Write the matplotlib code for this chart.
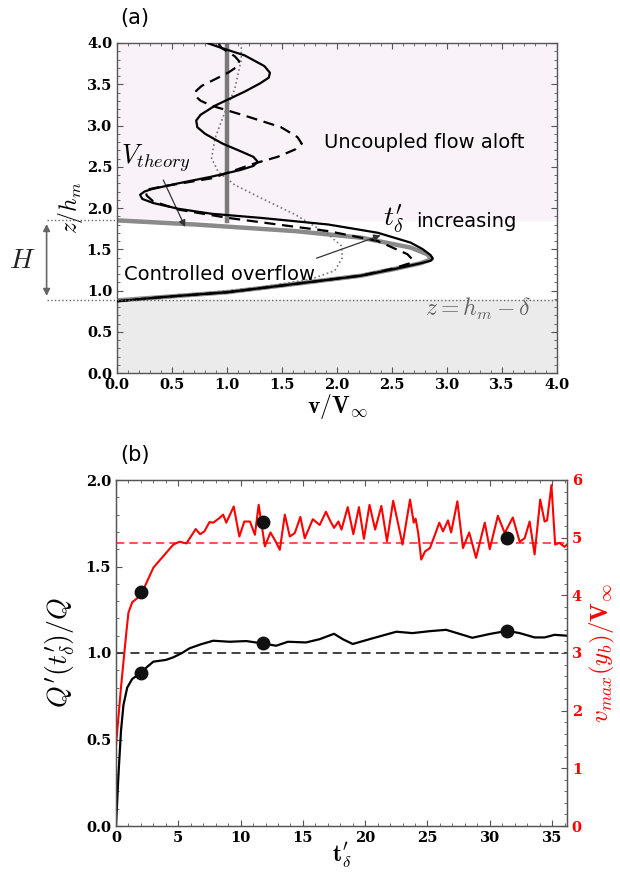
import matplotlib
matplotlib.use("Agg")
import matplotlib.pyplot as plt
from matplotlib.ticker import FuncFormatter, MultipleLocator, AutoMinorLocator

plt.rcParams['mathtext.fontset'] = 'cm'
plt.rcParams['font.family'] = ['DejaVu Sans']

# ---------------- Panel (a) data ----------------
solid_v = [0.0, 0.41, 1.01, 1.62, 2.22, 2.52, 2.76, 2.85, 2.87, 2.85, 2.78, 2.67, 2.37, 1.92, 1.31, 0.86,
           0.56, 0.33, 0.23, 0.21, 0.25, 0.32, 0.56, 0.86, 1.12, 1.24, 1.28, 1.24, 1.12, 0.96, 0.80, 0.73,
           0.72, 0.76, 0.89, 1.16, 1.30, 1.38, 1.39, 1.34, 1.16, 0.95, 0.82]
solid_z = [0.87, 0.92, 0.98, 1.08, 1.18, 1.26, 1.33, 1.36, 1.39, 1.43, 1.50, 1.58, 1.70, 1.80, 1.88, 1.93,
           1.99, 2.06, 2.11, 2.16, 2.20, 2.23, 2.30, 2.38, 2.46, 2.51, 2.56, 2.62, 2.69, 2.78, 2.90, 2.98,
           3.06, 3.13, 3.24, 3.41, 3.51, 3.58, 3.64, 3.72, 3.85, 3.94, 4.00]
dashed_v = [0.0, 0.41, 1.01, 1.62, 2.22, 2.52, 2.66, 2.69, 2.64, 2.37, 1.92, 1.46, 1.01, 0.56, 0.33, 0.27,
            0.26, 0.41, 0.86, 1.25, 1.46, 1.62, 1.68, 1.64, 1.49, 1.16, 0.86, 0.76, 0.71, 0.72, 0.77, 1.01,
            1.10, 1.11, 1.07, 0.95, 0.92]
dashed_z = [0.87, 0.92, 0.98, 1.08, 1.18, 1.27, 1.33, 1.37, 1.44, 1.60, 1.72, 1.80, 1.88, 1.98, 2.08, 2.15,
            2.22, 2.26, 2.36, 2.54, 2.62, 2.71, 2.78, 2.86, 2.98, 3.12, 3.24, 3.30, 3.36, 3.42, 3.48, 3.64,
            3.72, 3.78, 3.84, 3.94, 4.00]
dotted_v = [0.0, 0.71, 1.31, 1.77, 1.98, 2.05, 2.04, 1.92, 1.62, 1.31, 1.07, 0.92, 0.86, 0.89, 0.98, 1.07,
            1.13, 1.13]
dotted_z = [0.87, 0.96, 1.04, 1.14, 1.24, 1.40, 1.54, 1.68, 1.92, 2.12, 2.28, 2.44, 2.60, 2.84, 3.16, 3.44,
            3.80, 4.00]
theory_v = [0.0, 0.71, 1.62, 2.22, 2.67, 2.82, 2.86, 2.76, 2.52, 2.22, 1.62, 1.01, 0.41, 0.0]
theory_z = [1.85, 1.80, 1.72, 1.64, 1.52, 1.44, 1.38, 1.33, 1.26, 1.18, 1.08, 0.98, 0.92, 0.88]
z_low = 0.88      # z = h_m - delta
z_high = 1.86     # top of controlled layer
v_uniform = 1.0

# ---------------- Panel (b) data ----------------
t_q = [0, 0.2, 0.4, 0.6, 0.9, 1.3, 2.0, 2.5, 3.0, 4.0, 4.6, 5.3, 5.9, 6.8, 7.8, 9.1, 10.45, 11.8, 12.85,
       13.8, 15.25, 16.35, 17.5, 18.2, 19.0, 20.6, 22.5, 23.8, 25.15, 26.5, 27.6, 28.6, 30.0, 31.4, 32.4,
       33.6, 34.4, 35.2, 36.2]
q = [0, 0.3, 0.55, 0.7, 0.8, 0.85, 0.885, 0.92, 0.95, 0.96, 0.975, 1.0, 1.027, 1.05, 1.071, 1.065, 1.069,
     1.055, 1.042, 1.065, 1.061, 1.08, 1.111, 1.08, 1.052, 1.085, 1.123, 1.115, 1.126, 1.134, 1.11, 1.088,
     1.11, 1.128, 1.115, 1.09, 1.09, 1.105, 1.10]
t_v = [0, 0.2, 0.4, 0.6, 0.85, 1.0, 1.3, 1.7, 2.1, 2.45, 3.0, 3.8, 4.6, 5.1, 5.65, 6.4, 6.75, 7.1, 7.5, 7.8,
       8.3, 8.6, 8.85, 9.45, 9.9, 10.3, 10.75, 11.15, 11.45, 11.95, 12.4, 12.75, 13.15, 13.55, 13.95, 14.35,
       14.8, 15.15, 15.8, 16.35, 16.85, 17.15, 17.5, 17.85, 18.1, 18.6, 19.05, 19.5, 19.9, 20.35, 20.8,
       21.3, 21.75, 22.25, 23.0, 23.6, 23.9, 24.05, 24.25, 24.5, 24.8, 25.2, 25.6, 25.95, 26.25, 26.65,
       26.9, 27.4, 27.85, 28.35, 28.9, 29.6, 30.0, 30.65, 31.2, 31.85, 32.4, 32.8, 33.2, 33.6, 34.05, 34.4,
       34.6, 34.95, 35.25, 35.6, 36.0, 36.2]
vmax = [1.4, 1.9, 2.4, 2.85, 3.4, 3.7, 3.88, 3.95, 4.05, 4.22, 4.48, 4.68, 4.88, 4.93, 4.9, 5.15, 5.06,
        5.11, 5.27, 5.26, 5.34, 5.40, 5.26, 5.54, 5.02, 5.28, 5.28, 5.05, 5.57, 4.85, 5.09, 4.96, 4.79,
        5.40, 5.02, 5.08, 5.36, 4.99, 5.32, 5.22, 5.45, 5.31, 5.17, 5.28, 5.14, 5.53, 5.06, 5.53, 4.98,
        5.57, 5.14, 5.55, 4.94, 5.64, 4.88, 5.66, 5.26, 5.33, 5.09, 4.62, 4.76, 4.82, 5.05, 5.26, 5.11,
        5.30, 5.09, 5.63, 4.82, 5.09, 4.65, 5.26, 4.80, 5.38, 5.08, 5.35, 4.93, 4.99, 5.28, 4.71, 5.66,
        5.28, 5.30, 5.91, 4.88, 4.91, 4.84, 4.88]
q_ref = 1.0
v_ref = 4.9
dot_t = [2.0, 11.8, 31.4]
dot_q = [0.885, 1.055, 1.125]
dot_v = [4.05, 5.27, 5.0]

fig = plt.figure(figsize=(6.2, 8.73), dpi=100)
W, H = 620, 873

def box(l, t, r, b):
    return [l / W, 1 - b / H, (r - l) / W, (b - t) / H]

fmt1 = FuncFormatter(lambda x, p: '%.1f' % x)
fmt0 = FuncFormatter(lambda x, p: '%d' % round(x))
spine_c = '#555555'
tick_font = dict(family='DejaVu Serif', weight='bold', size=10.5)

def set_tick_font(labels):
    for lab in labels:
        lab.set_fontfamily(tick_font['family'])
        lab.set_fontweight(tick_font['weight'])
        lab.set_fontsize(tick_font['size'])

def style(ax, right=True):
    for s in ax.spines.values():
        s.set_color(spine_c)
        s.set_linewidth(1.0)
    ax.tick_params(which='both', direction='in', top=True, right=right, color=spine_c)
    ax.tick_params(which='major', length=4)
    ax.tick_params(which='minor', length=2)
    set_tick_font(ax.get_xticklabels() + ax.get_yticklabels())

# ---------------- Panel (a) ----------------
axa = fig.add_axes(box(117, 43, 557, 373))
axa.set_xlim(0, 4)
axa.set_ylim(0, 4)
axa.axhspan(0, z_low, color='#ebebeb', zorder=0)
axa.axhspan(z_high, 4, color='#f9f3f9', zorder=0)
axa.plot(theory_v, theory_z, color='#8a8a8a', lw=3.2, zorder=2)
axa.plot([v_uniform, v_uniform], [z_high - 0.02, 4], color='#7a7a7a', lw=3.2, zorder=2)
axa.plot(dotted_v, dotted_z, color='#777777', lw=1.2, ls=':', zorder=3)
axa.plot(dashed_v, dashed_z, color='black', lw=1.6, ls=(0, (5, 3)), zorder=3)
axa.plot(solid_v, solid_z, color='black', lw=1.6, zorder=4)
axa.plot([-0.64, 4], [z_low, z_low], color='#666666', lw=1.0, ls=':', clip_on=False, zorder=5)
axa.plot([-0.64, 0], [z_high, z_high], color='#666666', lw=1.0, ls=':', clip_on=False, zorder=5)
axa.annotate('', xy=(-0.64, z_low + 0.02), xytext=(-0.64, z_high - 0.02), xycoords='data',
             arrowprops=dict(arrowstyle='<|-|>', color='#666666', lw=1.2, mutation_scale=10),
             annotation_clip=False)
axa.text(-0.86, 1.37, r'$H$', fontsize=20, ha='center', va='center', color='#222222')
axa.text(1.88, 2.8, 'Uncoupled flow aloft', fontsize=14, va='center')
axa.text(0.06, 1.2, 'Controlled overflow', fontsize=14, va='center')
axa.text(2.42, 1.86, r"$t^{\prime}_{\delta}$", fontsize=20, va='center')
axa.text(2.72, 1.84, 'increasing', fontsize=14, va='center')
axa.text(0.04, 2.6, r'$V_{theory}$', fontsize=19, va='center')
axa.annotate('', xy=(0.63, 1.74), xytext=(0.41, 2.37),
             arrowprops=dict(arrowstyle='-|>', color='#333333', lw=0.9, mutation_scale=10))
axa.annotate('', xy=(2.42, 1.68), xytext=(1.79, 1.38),
             arrowprops=dict(arrowstyle='-|>', color='#333333', lw=0.9, mutation_scale=10))
axa.text(2.8, 0.78, r'$z = h_m - \delta$', fontsize=17, va='center', color='#666666')
axa.xaxis.set_major_locator(MultipleLocator(0.5))
axa.yaxis.set_major_locator(MultipleLocator(0.5))
axa.xaxis.set_minor_locator(AutoMinorLocator(5))
axa.yaxis.set_minor_locator(AutoMinorLocator(5))
axa.xaxis.set_major_formatter(fmt1)
axa.yaxis.set_major_formatter(fmt1)
style(axa)
axa.set_xlabel(r'$\mathbf{v/V_\infty}$', fontsize=17, labelpad=0)
axa.set_ylabel(r'$z/h_m$', fontsize=17, labelpad=1)
fig.text(135 / W, 1 - 18 / H, '(a)', fontsize=15, ha='center', va='center')

# ---------------- Panel (b) ----------------
axb = fig.add_axes(box(116, 480, 567, 826))
axb.set_xlim(0, 36.2)
axb.set_ylim(0, 2)
axb.axhline(q_ref, color='#333333', lw=1.3, ls=(0, (5, 3)))
axb.plot(t_q, q, color='black', lw=1.6)
axb.plot(dot_t, dot_q, 'o', color='#111111', ms=9, zorder=5)
axb.xaxis.set_major_locator(MultipleLocator(5))
axb.yaxis.set_major_locator(MultipleLocator(0.5))
axb.xaxis.set_minor_locator(AutoMinorLocator(5))
axb.yaxis.set_minor_locator(AutoMinorLocator(5))
axb.xaxis.set_major_formatter(fmt0)
axb.yaxis.set_major_formatter(fmt1)
style(axb, right=False)
axb.set_xlabel(r"$\mathbf{t}^{\prime}_{\delta}$", fontsize=17, labelpad=-3)
axb.set_ylabel(r"$Q^{\prime}(t^{\prime}_{\delta})/Q$", fontsize=20, labelpad=6)

axr = axb.twinx()
axr.set_ylim(0, 6)
axr.axhline(v_ref, color='#ff3333', lw=1.2, ls=(0, (5, 3)))
axr.plot(t_v, vmax, color='red', lw=1.5)
axr.plot(dot_t, dot_v, 'o', color='#111111', ms=9, zorder=5)
axr.yaxis.set_major_locator(MultipleLocator(1))
axr.yaxis.set_minor_locator(AutoMinorLocator(5))
axr.yaxis.set_major_formatter(fmt0)
for s in axr.spines.values():
    s.set_color(spine_c)
axr.tick_params(which='both', direction='in', color=spine_c, labelcolor='red')
axr.tick_params(which='major', length=4)
axr.tick_params(which='minor', length=2)
set_tick_font(axr.get_yticklabels())
axr.set_ylabel(r'$v_{max}(y_b)/\mathbf{V}_\infty$', fontsize=18, color='red', labelpad=4)
fig.text(135 / W, 1 - 455 / H, '(b)', fontsize=15, ha='center', va='center')

fig.savefig('out.png', dpi=100)
